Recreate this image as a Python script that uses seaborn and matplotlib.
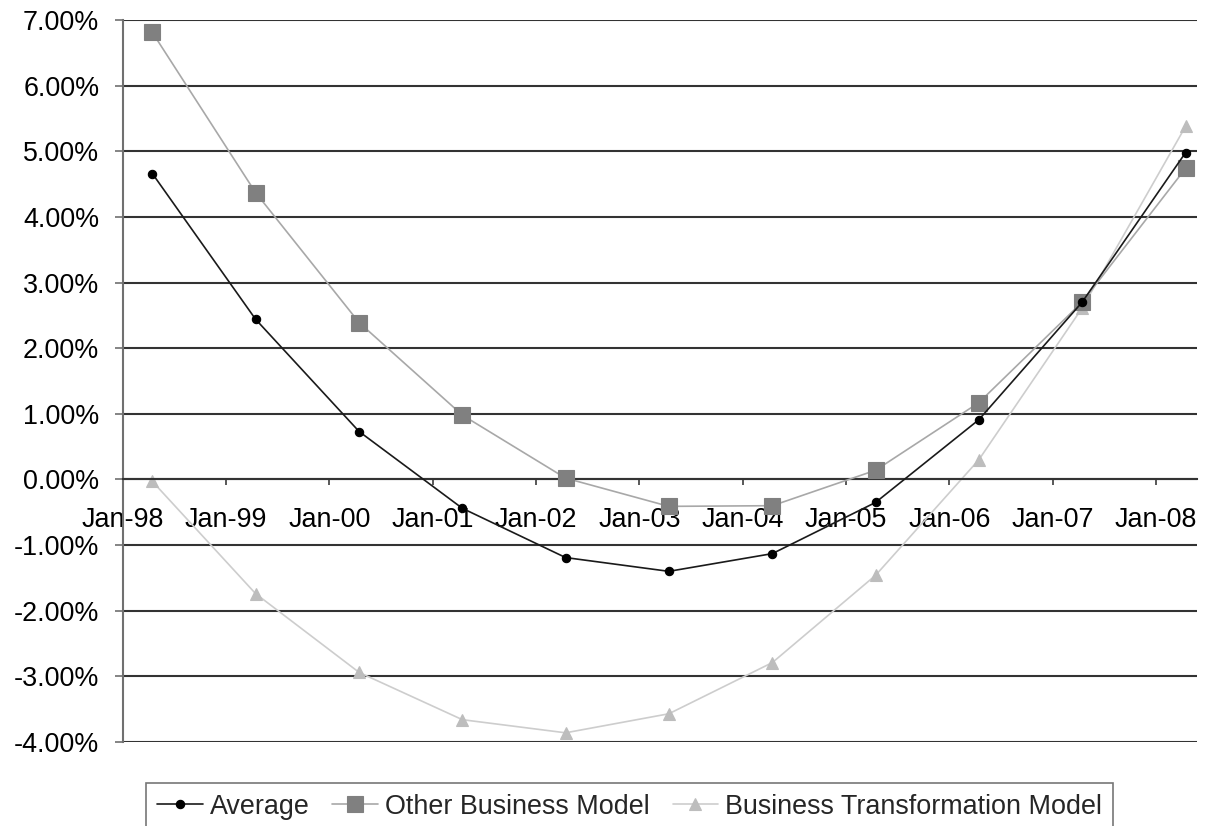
"""
plot.py — Return by business model, Jan-98 to Jan-08
Recreates the grey Excel-style line chart with three series.
"""

import matplotlib
matplotlib.use("Agg")

import pandas as pd
import matplotlib.pyplot as plt
import matplotlib.dates as mdates
from matplotlib.ticker import FuncFormatter
import seaborn as sns


# ── data (in %) ──────────────────────────────────────────────────────────────

dates = pd.to_datetime([
    "1998-04-15", "1999-04-15", "2000-04-15", "2001-04-15",
    "2002-04-15", "2003-04-15", "2004-04-15", "2005-04-15",
    "2006-04-15", "2007-04-15", "2008-04-15",
])

average   = [4.66, 2.44, 0.73, -0.44, -1.19, -1.40, -1.13, -0.35, 0.91, 2.70, 4.98]
other     = [6.81, 4.37, 2.39, 0.98, 0.02, -0.41, -0.40, 0.14, 1.17, 2.70, 4.74]
transform = [-0.03, -1.74, -2.94, -3.66, -3.86, -3.57, -2.79, -1.46, 0.30, 2.61, 5.38]

series_names = ["Average", "Other Business Model", "Business Transformation Model"]

y_ticks = [-4, -3, -2, -1, 0, 1, 2, 3, 4, 5, 6, 7]


# ── styles ────────────────────────────────────────────────────────────────────

STYLES = {
    "Average": dict(color="#1a1a1a", marker="o", markersize=6,
                    markerfacecolor="#000000", markeredgecolor="#000000",
                    linewidth=1.2, zorder=4),
    "Other Business Model": dict(color="#a8a8a8", marker="s", markersize=11.5,
                                 markerfacecolor="#808080", markeredgecolor="#808080",
                                 linewidth=1.2, zorder=3),
    "Business Transformation Model": dict(color="#cdcdcd", marker="^", markersize=8,
                                          markerfacecolor="#bdbdbd", markeredgecolor="#bdbdbd",
                                          linewidth=1.2, zorder=2),
}

sns.set_style("white")
plt.rcParams["font.family"] = ["Liberation Sans", "DejaVu Sans"]
FS = 19.4


# ── build long-form frame ────────────────────────────────────────────────────

wide = pd.DataFrame({
    "date": dates,
    "Average": average,
    "Other Business Model": other,
    "Business Transformation Model": transform,
})
df = wide.melt(id_vars="date", var_name="series", value_name="value")


# ── figure ────────────────────────────────────────────────────────────────────

fig = plt.figure(figsize=(12.09, 8.26), dpi=100)
ax = fig.add_axes([0.1017, 0.1017, 0.9900 - 0.1017, 0.9758 - 0.1017])

for name in series_names:
    sub = df[df["series"] == name]
    sns.lineplot(data=sub, x="date", y="value", ax=ax, label=name,
                 errorbar=None, markeredgewidth=0.8, **STYLES[name])

# y axis
ax.set_ylim(-4, 7)
ax.set_yticks(y_ticks)
ax.yaxis.set_major_formatter(FuncFormatter(lambda v, _: f"{v:.2f}%"))
ax.yaxis.grid(True, color="#333333", linewidth=1.5)
ax.xaxis.grid(False)
ax.set_axisbelow(True)

# x axis (date axis, crossing at 0)
ax.set_xlim(pd.Timestamp("1998-01-01"), pd.Timestamp("2008-05-25"))
ax.xaxis.set_major_locator(mdates.YearLocator())
ax.xaxis.set_major_formatter(mdates.DateFormatter("%b-%y"))
ax.spines["bottom"].set_position(("data", 0))
ax.spines["bottom"].set_color("#333333")
ax.spines["bottom"].set_linewidth(1.5)
ax.spines["left"].set_color("#707070")
ax.spines["left"].set_linewidth(1.5)
ax.spines["top"].set_visible(False)
ax.spines["right"].set_visible(False)

ax.tick_params(axis="x", direction="out", length=4.5, width=1.2, color="#3c3c3c",
               pad=15, labelsize=FS, labelcolor="black", bottom=True)
ax.tick_params(axis="y", direction="out", length=6, width=1.2, color="#707070",
               pad=11, labelsize=FS, labelcolor="black", left=True)

ax.set_xlabel("")
ax.set_ylabel("")

# legend along the bottom
handles, labels = ax.get_legend_handles_labels()
ax.get_legend().remove()
leg = fig.legend(handles, labels, loc="upper center", bbox_to_anchor=(0.5207, 0.0521),
                 ncol=3, frameon=True, fancybox=False, shadow=False,
                 borderpad=0.4, handlelength=1.7, handletextpad=0.25,
                 columnspacing=0.85, fontsize=FS, borderaxespad=0)
leg.get_frame().set_edgecolor("#555555")
leg.get_frame().set_linewidth(1.2)

fig.savefig("out.png", dpi=100)
plt.close(fig)
